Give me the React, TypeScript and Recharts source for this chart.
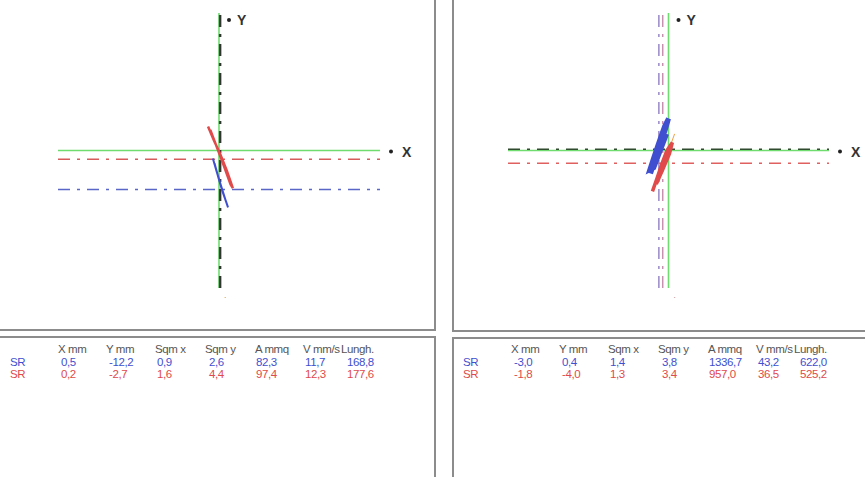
import React from "react";
import { LineChart, Line, XAxis, YAxis, ReferenceLine } from "recharts";

// ---- table data ----
const columns = ["X mm", "Y mm", "Sqm x", "Sqm y", "A mmq", "V mm/s", "Lungh."];
const rowLabels = ["SR", "SR"];
const leftBlueStats = [0.5, -12.2, 0.9, 2.6, 82.3, 11.7, 168.8];
const leftRedStats = [0.2, -2.7, 1.6, 4.4, 97.4, 12.3, 177.6];
const rightBlueStats = [-3.0, 0.4, 1.4, 3.8, 1336.7, 43.2, 622.0];
const rightRedStats = [-1.8, -4.0, 1.3, 3.4, 957.0, 36.5, 525.2];

// ---- sway paths (mm) ----
const leftRedPath = [
  { x: -3.4, y: 7.5 }, { x: -1.6, y: 3.2 }, { x: 0.4, y: -1.2 }, { x: 2.4, y: -6.2 },
  { x: 4.3, y: -11.8 }, { x: 3.6, y: -10.6 }, { x: 1.6, y: -5.0 }, { x: -0.5, y: 0.6 },
  { x: -2.7, y: 6.4 },
];
const leftBluePath = [
  { x: -1.9, y: -2.5 }, { x: -0.6, y: -7.0 }, { x: 0.8, y: -11.6 }, { x: 2.0, y: -15.4 },
  { x: 2.8, y: -17.8 }, { x: 2.2, y: -16.0 }, { x: 1.0, y: -12.6 }, { x: -0.2, y: -8.4 },
  { x: -1.4, y: -4.0 },
];
const rightBluePath = [
  { x: -5.6, y: -7.2 }, { x: -4.0, y: -2.5 }, { x: -2.5, y: 2.0 }, { x: -1.0, y: 6.5 },
  { x: 0.0, y: 10.0 }, { x: -1.2, y: 7.6 }, { x: -3.0, y: 2.5 }, { x: -4.5, y: -2.0 },
  { x: -5.8, y: -6.0 }, { x: -4.6, y: -5.4 }, { x: -2.2, y: 1.0 }, { x: -0.6, y: 5.2 },
];
const rightRedPath = [
  { x: -5.0, y: -12.8 }, { x: -3.5, y: -8.5 }, { x: -2.0, y: -4.0 }, { x: -0.5, y: 0.0 },
  { x: 1.2, y: 2.5 }, { x: 0.3, y: -1.0 }, { x: -1.8, y: -6.0 }, { x: -3.8, y: -10.5 },
];
const rightOrangePath = [
  { x: 1.9, y: 5.2 }, { x: -0.8, y: -2.4 }, { x: -3.6, y: -10.6 },
];

const GREEN = "#6fdc6f";
const BLUE = "#3f4fd0";
const RED = "#e04a4a";
const DASHDOT = "12 7 3 7";
const FONT = "'Liberation Sans', Arial, sans-serif";

const fmt = (v: number) => v.toFixed(1).replace(".", ",");

type Pt = { x: number; y: number };

interface PanelProps {
  left: number;
  width: number;
  height: number;
  margin: { top: number; right: number; bottom: number; left: number };
  blue: number[];
  red: number[];
  bluePath: Pt[];
  redPath: Pt[];
  extraPath?: Pt[];
  hBlueColor: string;
  hRedColor: string;
  vBlueColor: string;
  vRedColor: string;
  blueWidth: number;
  redWidth: number;
}

const xLabel = (props: any) => {
  const vb = props.viewBox || {};
  const x = vb.x + vb.width;
  const y = vb.y;
  return (
    <g>
      <circle cx={x + 11} cy={y + 1} r={2} fill="#222" />
      <text x={x + 22} y={y + 6} fontSize={14} fontFamily={FONT} fontWeight="bold" fill="#333">X</text>
    </g>
  );
};

const yLabel = (props: any) => {
  const vb = props.viewBox || {};
  const x = vb.x;
  const y = vb.y;
  return (
    <g>
      <circle cx={x + 10} cy={y + 7} r={2} fill="#222" />
      <text x={x + 18} y={y + 12} fontSize={14} fontFamily={FONT} fontWeight="bold" fill="#333">Y</text>
      <text x={x + 5} y={vb.y + vb.height + 10} fontSize={8} fontFamily={FONT} fill="#777">.</text>
    </g>
  );
};

function Panel(p: PanelProps) {
  return (
    <div style={{ position: "absolute", left: p.left, top: 0 }}>
      <LineChart width={p.width} height={p.height} margin={p.margin}>
        <XAxis type="number" dataKey="x" domain={[-50, 50]} allowDataOverflow hide height={0} />
        <YAxis type="number" dataKey="y" domain={[-43, 43]} allowDataOverflow hide width={0} />
        <ReferenceLine y={0} stroke={GREEN} strokeWidth={1.6} label={xLabel} />
        <ReferenceLine x={0} stroke={GREEN} strokeWidth={1.6} label={yLabel} />
        <ReferenceLine y={p.red[1]} stroke={p.hRedColor} strokeWidth={1.5} strokeDasharray={DASHDOT} />
        <ReferenceLine y={p.blue[1]} stroke={p.hBlueColor} strokeWidth={1.5} strokeDasharray={DASHDOT} />
        <ReferenceLine x={p.red[0]} stroke={p.vRedColor} strokeWidth={1.5} strokeDasharray={DASHDOT} />
        <ReferenceLine x={p.blue[0]} stroke={p.vBlueColor} strokeWidth={1.5} strokeDasharray={DASHDOT} />
        <Line data={p.bluePath} dataKey="y" type="linear" stroke={BLUE} strokeWidth={p.blueWidth} dot={false} isAnimationActive={false} />
        {p.extraPath && (
          <Line data={p.extraPath} dataKey="y" type="linear" stroke="#f0a040" strokeWidth={1} dot={false} isAnimationActive={false} />
        )}
        <Line data={p.redPath} dataKey="y" type="linear" stroke={RED} strokeWidth={p.redWidth} dot={false} isAnimationActive={false} />
      </LineChart>
    </div>
  );
}

const headerX = [58, 106, 155, 205, 255, 303, 341];
const valueX = [61, 109, 157, 209, 256, 305, 347];

function Table({ left, blue, red }: { left: number; blue: number[]; red: number[] }) {
  const rows = [blue, red];
  const colors = [BLUE, RED];
  const base: React.CSSProperties = {
    position: "absolute",
    fontFamily: FONT,
    fontSize: 11.5,
    lineHeight: "12px",
    whiteSpace: "nowrap",
    letterSpacing: -0.4,
  };
  return (
    <div style={{ position: "absolute", left, top: 0 }}>
      {columns.map((c, i) => (
        <div key={"h" + i} style={{ ...base, left: headerX[i], top: 343, color: "#555" }}>{c}</div>
      ))}
      {rows.map((r, ri) => (
        <React.Fragment key={"r" + ri}>
          <div style={{ ...base, left: 10, top: 356 + ri * 12, color: colors[ri] }}>{rowLabels[ri]}</div>
          {r.map((v, ci) => (
            <div key={ci} style={{ ...base, left: valueX[ci], top: 356 + ri * 12, color: colors[ri] }}>{fmt(v)}</div>
          ))}
        </React.Fragment>
      ))}
    </div>
  );
}

export default function App() {
  const border = "#8c8c8c";
  return (
    <div style={{ position: "absolute", left: 0, top: 0, width: 865, height: 477, background: "#fff", overflow: "hidden" }}>
      {/* frames */}
      <div style={{ position: "absolute", left: 0, top: 0, width: 434, height: 329, borderRight: `2px solid ${border}`, borderBottom: `2px solid ${border}` }} />
      <div style={{ position: "absolute", left: 0, top: 336, width: 434, height: 141, borderRight: `2px solid ${border}`, borderTop: `2px solid ${border}` }} />
      <div style={{ position: "absolute", left: 452, top: 0, width: 413, height: 330, borderLeft: `2px solid ${border}`, borderBottom: `2px solid ${border}` }} />
      <div style={{ position: "absolute", left: 452, top: 337, width: 413, height: 140, borderLeft: `2px solid ${border}`, borderTop: `2px solid ${border}` }} />

      <Panel
        left={0}
        width={434}
        height={331}
        margin={{ top: 13, right: 54, bottom: 43, left: 58 }}
        blue={leftBlueStats}
        red={leftRedStats}
        bluePath={leftBluePath}
        redPath={leftRedPath}
        hBlueColor="#5a66c8"
        hRedColor="#d85a5a"
        vBlueColor="#333"
        vRedColor="#444"
        blueWidth={2}
        redWidth={2.5}
      />
      <Panel
        left={453}
        width={412}
        height={332}
        margin={{ top: 13, right: 36, bottom: 44, left: 55 }}
        blue={rightBlueStats}
        red={rightRedStats}
        bluePath={rightBluePath}
        redPath={rightRedPath}
        extraPath={rightOrangePath}
        hBlueColor="#2f4a2f"
        hRedColor="#e06060"
        vBlueColor="#9a88c8"
        vRedColor="#c890b0"
        blueWidth={5}
        redWidth={3.5}
      />

      <Table left={0} blue={leftBlueStats} red={leftRedStats} />
      <Table left={453} blue={rightBlueStats} red={rightRedStats} />
    </div>
  );
}
